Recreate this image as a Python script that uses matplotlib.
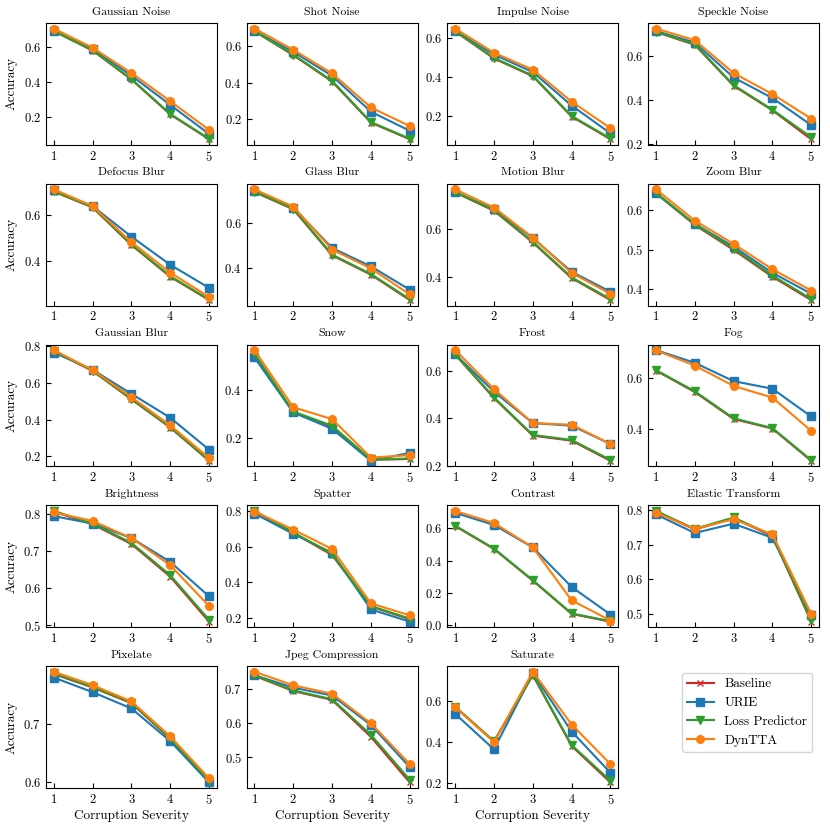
import matplotlib
matplotlib.use('Agg')
import matplotlib.pyplot as plt

plt.rcParams['font.family'] = 'cmr10'
plt.rcParams['mathtext.fontset'] = 'cm'
plt.rcParams['axes.formatter.use_mathtext'] = True

severity = [1, 2, 3, 4, 5]
methods = ["Baseline", "URIE", "Loss Predictor", "DynTTA"]
colors = ["#d62728", "#1f77b4", "#2ca02c", "#ff7f0e"]
markers = ["x", "s", "v", "o"]
msizes = [4, 5.5, 5.5, 5.5]

corruptions = ["Gaussian Noise", "Shot Noise", "Impulse Noise", "Speckle Noise",
               "Defocus Blur", "Glass Blur", "Motion Blur", "Zoom Blur",
               "Gaussian Blur", "Snow", "Frost", "Fog",
               "Brightness", "Spatter", "Contrast", "Elastic Transform",
               "Pixelate", "Jpeg Compression", "Saturate"]

# accuracy per corruption, severity 1..5
baseline = [
    [0.688, 0.578, 0.414, 0.216, 0.075],
    [0.677, 0.548, 0.405, 0.183, 0.093],
    [0.631, 0.494, 0.404, 0.199, 0.084],
    [0.710, 0.652, 0.465, 0.353, 0.221],
    [0.705, 0.635, 0.469, 0.329, 0.226],
    [0.737, 0.660, 0.455, 0.369, 0.256],
    [0.748, 0.673, 0.543, 0.397, 0.307],
    [0.643, 0.563, 0.500, 0.432, 0.373],
    [0.775, 0.666, 0.511, 0.357, 0.175],
    [0.553, 0.306, 0.247, 0.106, 0.110],
    [0.668, 0.485, 0.327, 0.306, 0.221],
    [0.631, 0.546, 0.439, 0.401, 0.273],
    [0.806, 0.772, 0.719, 0.631, 0.510],
    [0.800, 0.679, 0.553, 0.263, 0.192],
    [0.614, 0.472, 0.276, 0.070, 0.022],
    [0.797, 0.744, 0.777, 0.725, 0.477],
    [0.785, 0.762, 0.735, 0.674, 0.601],
    [0.740, 0.695, 0.669, 0.560, 0.426],
    [0.572, 0.404, 0.727, 0.382, 0.205],
]
urie = [
    [0.690, 0.588, 0.436, 0.270, 0.105],
    [0.679, 0.566, 0.436, 0.242, 0.139],
    [0.634, 0.514, 0.425, 0.255, 0.114],
    [0.715, 0.662, 0.503, 0.409, 0.286],
    [0.710, 0.641, 0.506, 0.382, 0.280],
    [0.742, 0.667, 0.488, 0.406, 0.302],
    [0.750, 0.679, 0.561, 0.423, 0.341],
    [0.643, 0.566, 0.508, 0.442, 0.389],
    [0.767, 0.673, 0.541, 0.411, 0.236],
    [0.538, 0.306, 0.237, 0.102, 0.136],
    [0.670, 0.512, 0.380, 0.369, 0.292],
    [0.712, 0.662, 0.589, 0.559, 0.449],
    [0.794, 0.774, 0.735, 0.671, 0.578],
    [0.787, 0.673, 0.566, 0.247, 0.178],
    [0.696, 0.621, 0.482, 0.237, 0.066],
    [0.788, 0.734, 0.761, 0.720, 0.496],
    [0.779, 0.754, 0.726, 0.670, 0.599],
    [0.742, 0.705, 0.682, 0.595, 0.471],
    [0.539, 0.366, 0.737, 0.453, 0.252],
]
loss_pred = [
    [0.690, 0.580, 0.417, 0.219, 0.078],
    [0.679, 0.551, 0.409, 0.186, 0.096],
    [0.634, 0.497, 0.407, 0.202, 0.088],
    [0.712, 0.655, 0.468, 0.356, 0.230],
    [0.707, 0.637, 0.472, 0.332, 0.229],
    [0.739, 0.663, 0.458, 0.372, 0.260],
    [0.750, 0.676, 0.546, 0.400, 0.311],
    [0.645, 0.565, 0.503, 0.435, 0.376],
    [0.776, 0.668, 0.514, 0.360, 0.178],
    [0.555, 0.310, 0.250, 0.108, 0.112],
    [0.670, 0.488, 0.330, 0.309, 0.225],
    [0.633, 0.549, 0.442, 0.403, 0.276],
    [0.808, 0.774, 0.722, 0.635, 0.515],
    [0.802, 0.681, 0.560, 0.266, 0.195],
    [0.617, 0.475, 0.279, 0.073, 0.025],
    [0.798, 0.746, 0.779, 0.727, 0.482],
    [0.786, 0.763, 0.736, 0.675, 0.602],
    [0.742, 0.697, 0.671, 0.566, 0.434],
    [0.574, 0.406, 0.729, 0.387, 0.213],
]
dyntta = [
    [0.703, 0.594, 0.451, 0.291, 0.128],
    [0.692, 0.577, 0.449, 0.265, 0.164],
    [0.646, 0.523, 0.437, 0.275, 0.140],
    [0.726, 0.673, 0.523, 0.427, 0.315],
    [0.715, 0.641, 0.482, 0.347, 0.240],
    [0.749, 0.672, 0.481, 0.397, 0.281],
    [0.761, 0.686, 0.563, 0.418, 0.333],
    [0.653, 0.574, 0.515, 0.451, 0.397],
    [0.780, 0.671, 0.523, 0.369, 0.191],
    [0.569, 0.328, 0.278, 0.116, 0.126],
    [0.687, 0.523, 0.380, 0.373, 0.292],
    [0.711, 0.651, 0.570, 0.524, 0.392],
    [0.804, 0.781, 0.735, 0.662, 0.552],
    [0.798, 0.697, 0.587, 0.281, 0.213],
    [0.708, 0.633, 0.482, 0.154, 0.029],
    [0.793, 0.746, 0.774, 0.730, 0.500],
    [0.789, 0.766, 0.738, 0.678, 0.606],
    [0.752, 0.712, 0.687, 0.600, 0.480],
    [0.571, 0.402, 0.744, 0.487, 0.294],
]
series = [baseline, urie, loss_pred, dyntta]

fig, axes = plt.subplots(5, 4, figsize=(8.3, 8.3), dpi=100)
fig.subplots_adjust(left=0.0554, right=0.9867, top=0.9723, bottom=0.0506,
                    wspace=0.175, hspace=0.32)

for i, name in enumerate(corruptions):
    ax = axes[i // 4][i % 4]
    for vals, lab, c, m, ms in zip(series, methods, colors, markers, msizes):
        ax.plot(severity, vals[i], color=c, marker=m, markersize=ms,
                linewidth=1.5, label=lab)
    ax.set_title(name, fontsize=8.5)
    ax.set_xticks(severity)
    ax.tick_params(direction='in', labelsize=9)
    if i % 4 == 0:
        ax.set_ylabel("Accuracy", fontsize=9.5)
    if i >= 16:
        ax.set_xlabel("Corruption Severity", fontsize=9.5, labelpad=2)

leg_ax = axes[4][3]
leg_ax.axis('off')
handles, labels = axes[0][0].get_legend_handles_labels()
leg_ax.legend(handles, labels, loc='upper right', fontsize=9.5)

plt.savefig("out.png", dpi=100)
